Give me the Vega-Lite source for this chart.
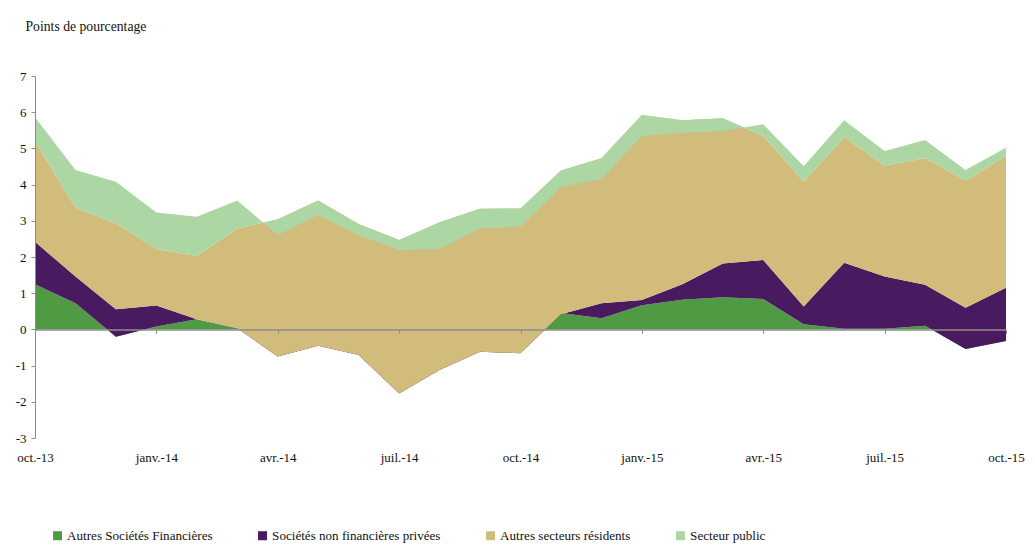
{
  "$schema": "https://vega.github.io/schema/vega-lite/v6.json",
  "width": 971,
  "height": 362,
  "autosize": {"type": "none"},
  "padding": {"left": 35, "top": 76, "right": 29, "bottom": 119},
  "config": {
    "view": {"stroke": null},
    "font": "Liberation Serif"
  },
  "data": {
    "values": [
      {"mois": "oct.-13", "secteur": "Autres Sociétés Financières", "ordre": 1, "valeur": 1.25},
      {"mois": "oct.-13", "secteur": "Sociétés non financières privées", "ordre": 2, "valeur": 1.17},
      {"mois": "oct.-13", "secteur": "Autres secteurs résidents", "ordre": 3, "valeur": 2.77},
      {"mois": "oct.-13", "secteur": "Secteur public", "ordre": 4, "valeur": 0.67},
      {"mois": "nov.-13", "secteur": "Autres Sociétés Financières", "ordre": 1, "valeur": 0.72},
      {"mois": "nov.-13", "secteur": "Sociétés non financières privées", "ordre": 2, "valeur": 0.74},
      {"mois": "nov.-13", "secteur": "Autres secteurs résidents", "ordre": 3, "valeur": 1.91},
      {"mois": "nov.-13", "secteur": "Secteur public", "ordre": 4, "valeur": 1.03},
      {"mois": "déc.-13", "secteur": "Autres Sociétés Financières", "ordre": 1, "valeur": -0.20},
      {"mois": "déc.-13", "secteur": "Sociétés non financières privées", "ordre": 2, "valeur": 0.76},
      {"mois": "déc.-13", "secteur": "Autres secteurs résidents", "ordre": 3, "valeur": 2.37},
      {"mois": "déc.-13", "secteur": "Secteur public", "ordre": 4, "valeur": 1.15},
      {"mois": "janv.-14", "secteur": "Autres Sociétés Financières", "ordre": 1, "valeur": 0.08},
      {"mois": "janv.-14", "secteur": "Sociétés non financières privées", "ordre": 2, "valeur": 0.58},
      {"mois": "janv.-14", "secteur": "Autres secteurs résidents", "ordre": 3, "valeur": 1.56},
      {"mois": "janv.-14", "secteur": "Secteur public", "ordre": 4, "valeur": 1.01},
      {"mois": "févr.-14", "secteur": "Autres Sociétés Financières", "ordre": 1, "valeur": 0.28},
      {"mois": "févr.-14", "secteur": "Sociétés non financières privées", "ordre": 2, "valeur": 0.00},
      {"mois": "févr.-14", "secteur": "Autres secteurs résidents", "ordre": 3, "valeur": 1.75},
      {"mois": "févr.-14", "secteur": "Secteur public", "ordre": 4, "valeur": 1.08},
      {"mois": "mars-14", "secteur": "Autres Sociétés Financières", "ordre": 1, "valeur": 0.02},
      {"mois": "mars-14", "secteur": "Sociétés non financières privées", "ordre": 2, "valeur": 0.01},
      {"mois": "mars-14", "secteur": "Autres secteurs résidents", "ordre": 3, "valeur": 2.76},
      {"mois": "mars-14", "secteur": "Secteur public", "ordre": 4, "valeur": 0.77},
      {"mois": "avr.-14", "secteur": "Autres Sociétés Financières", "ordre": 1, "valeur": 0.00},
      {"mois": "avr.-14", "secteur": "Sociétés non financières privées", "ordre": 2, "valeur": -0.75},
      {"mois": "avr.-14", "secteur": "Autres secteurs résidents", "ordre": 3, "valeur": 3.79},
      {"mois": "avr.-14", "secteur": "Secteur public", "ordre": 4, "valeur": -0.43},
      {"mois": "mai-14", "secteur": "Autres Sociétés Financières", "ordre": 1, "valeur": 0.00},
      {"mois": "mai-14", "secteur": "Sociétés non financières privées", "ordre": 2, "valeur": -0.45},
      {"mois": "mai-14", "secteur": "Autres secteurs résidents", "ordre": 3, "valeur": 4.01},
      {"mois": "mai-14", "secteur": "Secteur public", "ordre": 4, "valeur": -0.40},
      {"mois": "juin-14", "secteur": "Autres Sociétés Financières", "ordre": 1, "valeur": 0.00},
      {"mois": "juin-14", "secteur": "Sociétés non financières privées", "ordre": 2, "valeur": -0.71},
      {"mois": "juin-14", "secteur": "Autres secteurs résidents", "ordre": 3, "valeur": 3.62},
      {"mois": "juin-14", "secteur": "Secteur public", "ordre": 4, "valeur": -0.31},
      {"mois": "juil.-14", "secteur": "Autres Sociétés Financières", "ordre": 1, "valeur": 0.00},
      {"mois": "juil.-14", "secteur": "Sociétés non financières privées", "ordre": 2, "valeur": -1.77},
      {"mois": "juil.-14", "secteur": "Autres secteurs résidents", "ordre": 3, "valeur": 4.24},
      {"mois": "juil.-14", "secteur": "Secteur public", "ordre": 4, "valeur": -0.28},
      {"mois": "août-14", "secteur": "Autres Sociétés Financières", "ordre": 1, "valeur": 0.00},
      {"mois": "août-14", "secteur": "Sociétés non financières privées", "ordre": 2, "valeur": -1.12},
      {"mois": "août-14", "secteur": "Autres secteurs résidents", "ordre": 3, "valeur": 4.08},
      {"mois": "août-14", "secteur": "Secteur public", "ordre": 4, "valeur": -0.74},
      {"mois": "sept.-14", "secteur": "Autres Sociétés Financières", "ordre": 1, "valeur": 0.00},
      {"mois": "sept.-14", "secteur": "Sociétés non financières privées", "ordre": 2, "valeur": -0.62},
      {"mois": "sept.-14", "secteur": "Autres secteurs résidents", "ordre": 3, "valeur": 3.95},
      {"mois": "sept.-14", "secteur": "Secteur public", "ordre": 4, "valeur": -0.54},
      {"mois": "oct.-14", "secteur": "Autres Sociétés Financières", "ordre": 1, "valeur": 0.00},
      {"mois": "oct.-14", "secteur": "Sociétés non financières privées", "ordre": 2, "valeur": -0.66},
      {"mois": "oct.-14", "secteur": "Autres secteurs résidents", "ordre": 3, "valeur": 4.00},
      {"mois": "oct.-14", "secteur": "Secteur public", "ordre": 4, "valeur": -0.50},
      {"mois": "nov.-14", "secteur": "Autres Sociétés Financières", "ordre": 1, "valeur": 0.45},
      {"mois": "nov.-14", "secteur": "Sociétés non financières privées", "ordre": 2, "valeur": -0.03},
      {"mois": "nov.-14", "secteur": "Autres secteurs résidents", "ordre": 3, "valeur": 3.97},
      {"mois": "nov.-14", "secteur": "Secteur public", "ordre": 4, "valeur": -0.46},
      {"mois": "déc.-14", "secteur": "Autres Sociétés Financières", "ordre": 1, "valeur": 0.31},
      {"mois": "déc.-14", "secteur": "Sociétés non financières privées", "ordre": 2, "valeur": 0.41},
      {"mois": "déc.-14", "secteur": "Autres secteurs résidents", "ordre": 3, "valeur": 4.01},
      {"mois": "déc.-14", "secteur": "Secteur public", "ordre": 4, "valeur": -0.57},
      {"mois": "janv.-15", "secteur": "Autres Sociétés Financières", "ordre": 1, "valeur": 0.67},
      {"mois": "janv.-15", "secteur": "Sociétés non financières privées", "ordre": 2, "valeur": 0.14},
      {"mois": "janv.-15", "secteur": "Autres secteurs résidents", "ordre": 3, "valeur": 5.11},
      {"mois": "janv.-15", "secteur": "Secteur public", "ordre": 4, "valeur": -0.58},
      {"mois": "févr.-15", "secteur": "Autres Sociétés Financières", "ordre": 1, "valeur": 0.82},
      {"mois": "févr.-15", "secteur": "Sociétés non financières privées", "ordre": 2, "valeur": 0.43},
      {"mois": "févr.-15", "secteur": "Autres secteurs résidents", "ordre": 3, "valeur": 4.53},
      {"mois": "févr.-15", "secteur": "Secteur public", "ordre": 4, "valeur": -0.35},
      {"mois": "mars-15", "secteur": "Autres Sociétés Financières", "ordre": 1, "valeur": 0.89},
      {"mois": "mars-15", "secteur": "Sociétés non financières privées", "ordre": 2, "valeur": 0.93},
      {"mois": "mars-15", "secteur": "Autres secteurs résidents", "ordre": 3, "valeur": 4.01},
      {"mois": "mars-15", "secteur": "Secteur public", "ordre": 4, "valeur": -0.35},
      {"mois": "avr.-15", "secteur": "Autres Sociétés Financières", "ordre": 1, "valeur": 0.84},
      {"mois": "avr.-15", "secteur": "Sociétés non financières privées", "ordre": 2, "valeur": 1.08},
      {"mois": "avr.-15", "secteur": "Autres secteurs résidents", "ordre": 3, "valeur": 3.42},
      {"mois": "avr.-15", "secteur": "Secteur public", "ordre": 4, "valeur": 0.33},
      {"mois": "mai-15", "secteur": "Autres Sociétés Financières", "ordre": 1, "valeur": 0.14},
      {"mois": "mai-15", "secteur": "Sociétés non financières privées", "ordre": 2, "valeur": 0.49},
      {"mois": "mai-15", "secteur": "Autres secteurs résidents", "ordre": 3, "valeur": 3.45},
      {"mois": "mai-15", "secteur": "Secteur public", "ordre": 4, "valeur": 0.43},
      {"mois": "juin-15", "secteur": "Autres Sociétés Financières", "ordre": 1, "valeur": 0.02},
      {"mois": "juin-15", "secteur": "Sociétés non financières privées", "ordre": 2, "valeur": 1.82},
      {"mois": "juin-15", "secteur": "Autres secteurs résidents", "ordre": 3, "valeur": 3.47},
      {"mois": "juin-15", "secteur": "Secteur public", "ordre": 4, "valeur": 0.47},
      {"mois": "juil.-15", "secteur": "Autres Sociétés Financières", "ordre": 1, "valeur": 0.02},
      {"mois": "juil.-15", "secteur": "Sociétés non financières privées", "ordre": 2, "valeur": 1.44},
      {"mois": "juil.-15", "secteur": "Autres secteurs résidents", "ordre": 3, "valeur": 3.07},
      {"mois": "juil.-15", "secteur": "Secteur public", "ordre": 4, "valeur": 0.40},
      {"mois": "août-15", "secteur": "Autres Sociétés Financières", "ordre": 1, "valeur": 0.10},
      {"mois": "août-15", "secteur": "Sociétés non financières privées", "ordre": 2, "valeur": 1.13},
      {"mois": "août-15", "secteur": "Autres secteurs résidents", "ordre": 3, "valeur": 3.50},
      {"mois": "août-15", "secteur": "Secteur public", "ordre": 4, "valeur": 0.50},
      {"mois": "sept.-15", "secteur": "Autres Sociétés Financières", "ordre": 1, "valeur": -0.54},
      {"mois": "sept.-15", "secteur": "Sociétés non financières privées", "ordre": 2, "valeur": 1.14},
      {"mois": "sept.-15", "secteur": "Autres secteurs résidents", "ordre": 3, "valeur": 3.51},
      {"mois": "sept.-15", "secteur": "Secteur public", "ordre": 4, "valeur": 0.29},
      {"mois": "oct.-15", "secteur": "Autres Sociétés Financières", "ordre": 1, "valeur": -0.32},
      {"mois": "oct.-15", "secteur": "Sociétés non financières privées", "ordre": 2, "valeur": 1.47},
      {"mois": "oct.-15", "secteur": "Autres secteurs résidents", "ordre": 3, "valeur": 3.64},
      {"mois": "oct.-15", "secteur": "Secteur public", "ordre": 4, "valeur": 0.23}
    ]
  },
  "transform": [
    {"window": [{"op": "sum", "field": "valeur", "as": "haut"}], "groupby": ["mois"], "sort": [{"field": "ordre"}], "frame": [null, 0]},
    {"window": [{"op": "lag", "field": "haut", "as": "bas"}], "groupby": ["mois"], "sort": [{"field": "ordre"}]}
  ],
  "encoding": {
    "x": {
      "field": "mois",
      "type": "ordinal",
      "sort": null,
      "scale": {"type": "point", "padding": 0},
      "axis": {
        "title": null,
        "values": ["oct.-13", "janv.-14", "avr.-14", "juil.-14", "oct.-14", "janv.-15", "avr.-15", "juil.-15", "oct.-15"],
        "offset": -108.6,
        "labelPadding": 118,
        "labelAngle": 0,
        "labelFont": "Liberation Serif",
        "labelFontSize": 13,
        "labelColor": "#111111",
        "tickSize": 4,
        "tickColor": "#8c8c8c",
        "domainColor": "#8c8c8c",
        "domainWidth": 1.5,
        "grid": false,
        "zindex": 1
      }
    },
    "y": {
      "field": "haut",
      "type": "quantitative",
      "scale": {"domain": [-3, 7], "nice": false, "zero": false},
      "axis": {
        "values": [-3, -2, -1, 0, 1, 2, 3, 4, 5, 6, 7],
        "labelExpr": "datum.value + ''",
        "title": "Points de pourcentage",
        "titleAngle": 0,
        "titleX": -10,
        "titleY": -50,
        "titleAlign": "left",
        "titleBaseline": "middle",
        "titleFont": "Liberation Serif",
        "titleFontSize": 13.7,
        "titleFontWeight": "normal",
        "titleColor": "#111111",
        "labelFont": "Liberation Serif",
        "labelFontSize": 13,
        "labelColor": "#111111",
        "labelPadding": 5,
        "tickSize": 4,
        "tickColor": "#8c8c8c",
        "domainColor": "#8c8c8c",
        "grid": false,
        "zindex": 1
      }
    },
    "color": {
      "field": "secteur",
      "type": "nominal",
      "scale": {
        "domain": ["Autres Sociétés Financières", "Sociétés non financières privées", "Autres secteurs résidents", "Secteur public"],
        "range": ["#4f9a43", "#4a1a60", "#d1bc7c", "#acd7a5"]
      },
      "legend": {
        "orient": "none",
        "legendX": 16,
        "legendY": 453,
        "direction": "horizontal",
        "title": null,
        "symbolType": "square",
        "symbolSize": 81,
        "labelFont": "Liberation Serif",
        "labelFontSize": 13.1,
        "labelColor": "#111111",
        "labelOffset": 3,
        "labelLimit": 400,
        "columnPadding": 43
      }
    }
  },
  "layer": [
    {"transform": [{"filter": "datum.ordre == 1"}], "mark": {"type": "area", "opacity": 1}, "encoding": {"y2": {"datum": 0}}},
    {"transform": [{"filter": "datum.ordre == 2"}], "mark": {"type": "area", "opacity": 1}, "encoding": {"y2": {"field": "bas"}}},
    {"transform": [{"filter": "datum.ordre == 3"}], "mark": {"type": "area", "opacity": 1}, "encoding": {"y2": {"field": "bas"}}},
    {"transform": [{"filter": "datum.ordre == 4"}], "mark": {"type": "area", "opacity": 1}, "encoding": {"y2": {"field": "bas"}}}
  ]
}
